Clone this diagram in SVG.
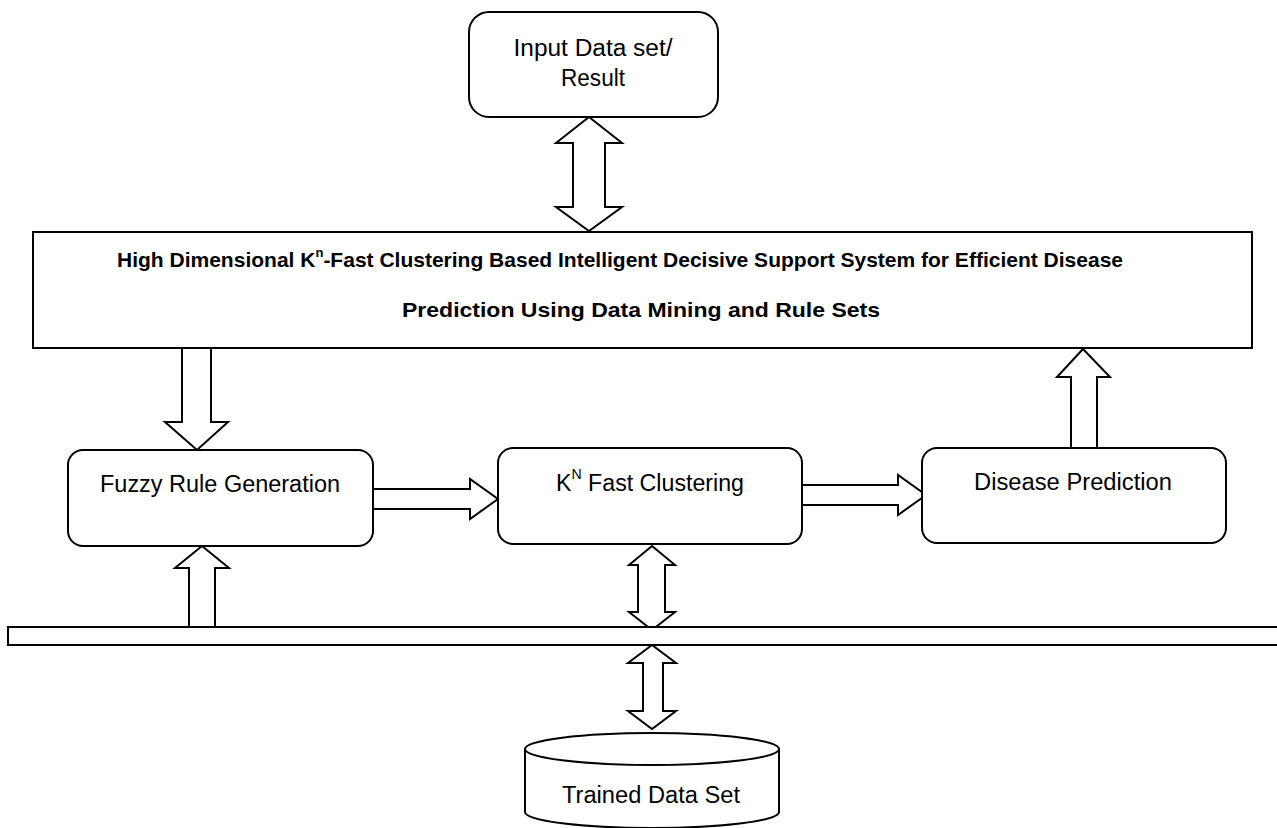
<svg xmlns="http://www.w3.org/2000/svg" width="1277" height="828" viewBox="0 0 1277 828">
  <style>
    .box { fill: #ffffff; stroke: #000000; stroke-width: 2; }
    .arrow { fill: #ffffff; stroke: #000000; stroke-width: 2; stroke-linejoin: miter; }
    .label { font-family: "Liberation Sans", Arial, sans-serif; font-size: 23px; fill: #000000; text-anchor: middle; }
    .title { font-family: "Liberation Sans", Arial, sans-serif; font-size: 21px; font-weight: bold; fill: #000000; }
  </style>
  <rect width="1277" height="828" fill="#ffffff"/>

  <!-- connectors -->
  <g id="connectors">
    <polygon class="arrow" points="589,117 556,143 573,143 573,207 556,207 589,231 622,207 605,207 605,143 622,143"/>
    <polygon class="arrow" points="182,348 182,422 165,422 197,450 228,422 211,422 211,348"/>
    <polygon class="arrow" points="1083,349 1057,377 1071,377 1071,448 1097,448 1097,377 1110,377"/>
    <polygon class="arrow" points="373,489 470,489 470,479 498,499 470,519 470,509 373,509"/>
    <polygon class="arrow" points="802,485 898,485 898,475 926,495 898,515 898,505 802,505"/>
    <polygon class="arrow" points="652,546 629,565 638,565 638,612 629,612 652,630 675,612 665,612 665,565 675,565"/>
    <polygon class="arrow" points="202,546 175,568 189,568 189,627 215,627 215,568 229,568"/>
    <polygon class="arrow" points="652,645 628,663 643,663 643,711 628,711 652,729 676,711 663,711 663,663 676,663"/>
  </g>

  <!-- input / result -->
  <g id="input">
    <rect class="box" x="469" y="12" width="249" height="105" rx="20" ry="20"/>
    <text class="label" x="593" y="56" textLength="159" lengthAdjust="spacingAndGlyphs">Input Data set/</text>
    <text class="label" x="593" y="86" textLength="64" lengthAdjust="spacingAndGlyphs">Result</text>
  </g>

  <!-- main system -->
  <g id="system">
    <rect class="box" x="33" y="232" width="1219" height="116"/>
    <text class="title" x="117" y="267" textLength="1006" lengthAdjust="spacingAndGlyphs">High Dimensional K<tspan font-size="13" dy="-10">n</tspan><tspan dy="10">-Fast Clustering Based Intelligent Decisive Support System for Efficient Disease</tspan></text>
    <text class="title" x="402" y="317" textLength="478" lengthAdjust="spacingAndGlyphs">Prediction Using Data Mining and Rule Sets</text>
  </g>

  <!-- fuzzy rule generation -->
  <g id="fuzzy">
    <rect class="box" x="68" y="450" width="305" height="96" rx="15" ry="15"/>
    <text class="label" x="220" y="492" textLength="240" lengthAdjust="spacingAndGlyphs">Fuzzy Rule Generation</text>
  </g>

  <!-- K^N fast clustering -->
  <g id="clustering">
    <rect class="box" x="498" y="448" width="304" height="96" rx="15" ry="15"/>
    <text class="label" x="650" y="491" textLength="188" lengthAdjust="spacingAndGlyphs">K<tspan font-size="14" dy="-12">N</tspan><tspan dy="12"> Fast Clustering</tspan></text>
  </g>

  <!-- disease prediction -->
  <g id="prediction">
    <rect class="box" x="922" y="448" width="304" height="95" rx="15" ry="15"/>
    <text class="label" x="1073" y="490" textLength="198" lengthAdjust="spacingAndGlyphs">Disease Prediction</text>
  </g>

  <!-- data bus -->
  <g id="bus">
    <rect class="box" x="8" y="627" width="1290" height="18"/>
  </g>

  <!-- trained data set store -->
  <g id="store">
    <path class="box" d="M525,749 L525,812 A127,16 0 0 0 779,812 L779,749"/>
    <ellipse class="box" cx="652" cy="749" rx="127" ry="16"/>
    <text class="label" x="651" y="803" textLength="178" lengthAdjust="spacingAndGlyphs">Trained Data Set</text>
  </g>
</svg>
